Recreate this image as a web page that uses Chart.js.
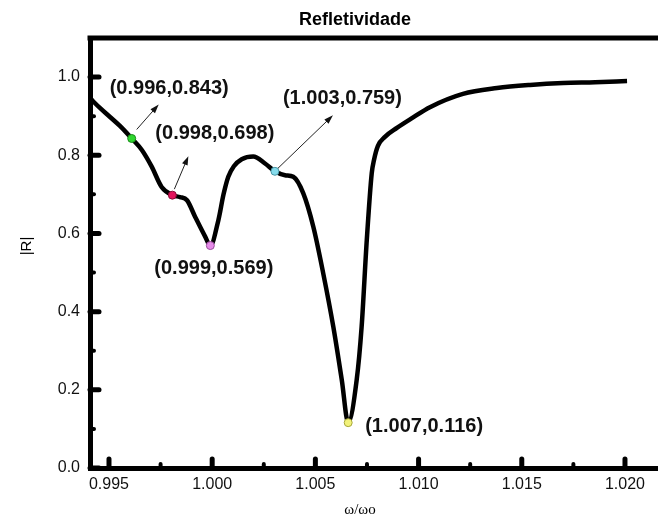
<!DOCTYPE html>
<html>
<head>
<meta charset="utf-8">
<script src="https://cdn.jsdelivr.net/npm/chart.js@4.4.1/dist/chart.umd.min.js"></script>
<style>
body { margin: 0; background: #fff; }
#wrap { width: 658px; height: 526px; }
</style>
</head>
<body>
<div id="wrap"><canvas id="refl_chart" width="658" height="526"></canvas></div>
<script>
// reflectivity curve |R| vs w/w0
var freq = [0.99408, 0.99456, 0.99505, 0.99553, 0.99610, 0.99660, 0.99707, 0.99755, 0.99807, 0.99844,
            0.99878, 0.99917, 0.99966, 0.99991, 1.00030, 1.00055, 1.00078, 1.00105, 1.00143, 1.00199,
            1.00256, 1.00304, 1.00353, 1.00393, 1.00441, 1.00490, 1.00538, 1.00587, 1.00628, 1.00659,
            1.00700, 1.00724, 1.00749, 1.00773, 1.00784, 1.00803, 1.00837, 1.00895, 1.00968, 1.01055,
            1.01215, 1.01380, 1.01540, 1.01700, 1.01855, 1.02010];
var refl = [0.946, 0.921, 0.898, 0.875, 0.843, 0.813, 0.771, 0.719, 0.698, 0.693,
            0.685, 0.643, 0.592, 0.569, 0.634, 0.700, 0.745, 0.772, 0.790, 0.797,
            0.779, 0.759, 0.749, 0.745, 0.703, 0.617, 0.498, 0.361, 0.225, 0.116,
            0.225, 0.361, 0.583, 0.754, 0.788, 0.824, 0.847, 0.870, 0.895, 0.923,
            0.957, 0.972, 0.980, 0.985, 0.987, 0.990];

// marked points
var markX = [0.99610, 0.99807, 0.99991, 1.00304, 1.00659];
var markY = [0.843, 0.698, 0.569, 0.759, 0.116];
var markLabel = ["(0.996,0.843)", "(0.998,0.698)", "(0.999,0.569)", "(1.003,0.759)", "(1.007,0.116)"];

var xTicks = [0.995, 1.000, 1.005, 1.010, 1.015, 1.020];
var xMinor = [0.9975, 1.0025, 1.0075, 1.0125, 1.0175];
var yTicks = [0.0, 0.2, 0.4, 0.6, 0.8, 1.0];
var yMinor = [0.1, 0.3, 0.5, 0.7, 0.9];

var markColor = ['#2fd62f', '#e3125c', '#e58ae8', '#86dcec', '#f2f27a'];
var markBorder = ['#1a8a1a', '#8a0a36', '#9a4c9c', '#4a97a6', '#a6a63a'];
// text offset [dx, dy] from marker, arrow [x0, y0, x1, y1] relative to marker (pixels)
var labelOffset = [[-22, -50], [-17, -62], [-56, 23], [8, -73], [17, 4]];
var arrowOffset = [[5, -9, 27, -34], [2, -6, 16, -39], null, [3, -3, 58, -56], null];

var curve = freq.map(function(x, i){ return {x: x, y: refl[i]}; });
var marks = markX.map(function(x, i){ return {x: x, y: markY[i]}; });

function seg(ctx, x0, y0, x1, y1){
	ctx.beginPath();
	ctx.moveTo(x0, y0);
	ctx.lineTo(x1, y1);
	ctx.stroke();
}

var decor = {
	id: 'decor',
	afterDraw: function(chart){
		var ctx = chart.ctx, a = chart.chartArea;
		var xs = chart.scales.x, ys = chart.scales.y;
		ctx.save();
		ctx.strokeStyle = '#000';
		ctx.lineWidth = 5;
		seg(ctx, a.left - 2.5, a.top, chart.width, a.top);

		// inner tick marks
		ctx.lineCap = 'round';
		yTicks.forEach(function(v){ var y = ys.getPixelForValue(v); seg(ctx, a.left, y, a.left + 9, y); });
		xTicks.forEach(function(v){ var x = xs.getPixelForValue(v); seg(ctx, x, a.bottom, x, a.bottom - 9); });
		ctx.lineWidth = 4;
		yMinor.forEach(function(v){ var y = ys.getPixelForValue(v); seg(ctx, a.left, y, a.left + 4, y); });
		xMinor.forEach(function(v){ var x = xs.getPixelForValue(v); seg(ctx, x, a.bottom, x, a.bottom - 4); });

		// annotations
		ctx.lineCap = 'butt';
		ctx.font = 'bold 20px "Liberation Sans", Arial, sans-serif';
		ctx.textAlign = 'left';
		ctx.textBaseline = 'middle';
		markX.forEach(function(v, i){
			var px = xs.getPixelForValue(v), py = ys.getPixelForValue(markY[i]);
			ctx.fillStyle = '#111';
			ctx.fillText(markLabel[i], px + labelOffset[i][0], py + labelOffset[i][1]);
			var ar = arrowOffset[i];
			if(ar){
				var x0 = px + ar[0], y0 = py + ar[1], x1 = px + ar[2], y1 = py + ar[3];
				var ang = Math.atan2(y1 - y0, x1 - x0);
				ctx.strokeStyle = '#222';
				ctx.lineWidth = 1;
				seg(ctx, x0, y0, x1 - 6 * Math.cos(ang), y1 - 6 * Math.sin(ang));
				ctx.fillStyle = '#111';
				ctx.beginPath();
				ctx.moveTo(x1, y1);
				ctx.lineTo(x1 - 9 * Math.cos(ang) + 3 * Math.sin(ang), y1 - 9 * Math.sin(ang) - 3 * Math.cos(ang));
				ctx.lineTo(x1 - 9 * Math.cos(ang) - 3 * Math.sin(ang), y1 - 9 * Math.sin(ang) + 3 * Math.cos(ang));
				ctx.closePath();
				ctx.fill();
			}
		});

		// titles
		ctx.fillStyle = '#000';
		ctx.textAlign = 'center';
		ctx.font = 'bold 18px "Liberation Sans", Arial, sans-serif';
		ctx.fillText('Refletividade', 355, 20);
		ctx.font = '15px "Liberation Serif", "DejaVu Serif", serif';
		ctx.fillText('ω/ωo', 360, 510);
		ctx.translate(27, 246);
		ctx.rotate(-Math.PI / 2);
		ctx.font = '15px "Liberation Sans", Arial, sans-serif';
		ctx.fillText('|R|', 0, 0);
		ctx.restore();
	}
};

var ctx = document.getElementById("refl_chart");
var myChart = new Chart(ctx, {
	type: 'line',
	data: {
		datasets: [{
			label: 'pontos',
			data: marks,
			showLine: false,
			pointRadius: 4,
			pointBorderWidth: 1,
			pointBackgroundColor: markColor,
			pointBorderColor: markBorder
		}, {
			label: '|R|',
			data: curve,
			borderColor: '#000',
			borderWidth: 4.5,
			pointRadius: 0,
			fill: false,
			cubicInterpolationMode: 'monotone'
		}]
	},
	options: {
		responsive: false,
		animation: false,
		layout: { autoPadding: false, padding: { top: 38, left: 0, right: 0, bottom: 0 } },
		plugins: {
			legend: { display: false },
			title: { display: false },
			tooltip: { enabled: false }
		},
		scales: {
			x: {
				type: 'linear',
				min: 0.99408,
				max: 1.0216,
				grid: { display: false, drawTicks: false },
				border: { display: true, width: 5, color: '#000' },
				afterBuildTicks: function(s){ s.ticks = xTicks.map(function(v){ return {value: v}; }); },
				afterFit: function(s){ s.height = 58; s.paddingLeft = 0; s.paddingRight = 0; },
				ticks: {
					padding: 7,
					color: '#111',
					font: { family: '"Liberation Sans", Arial, sans-serif', size: 16 },
					callback: function(v){ return Number(v).toFixed(3); }
				}
			},
			y: {
				min: 0,
				max: 1.1,
				grid: { display: false, drawTicks: false },
				border: { display: true, width: 5, color: '#000' },
				afterBuildTicks: function(s){ s.ticks = yTicks.map(function(v){ return {value: v}; }); },
				afterFit: function(s){ s.width = 90; s.paddingTop = 0; s.paddingBottom = 0; },
				ticks: {
					padding: 10,
					color: '#111',
					font: { family: '"Liberation Sans", Arial, sans-serif', size: 16 },
					callback: function(v){ return Number(v).toFixed(1); }
				}
			}
		}
	},
	plugins: [decor]
});
</script>
</body>
</html>
